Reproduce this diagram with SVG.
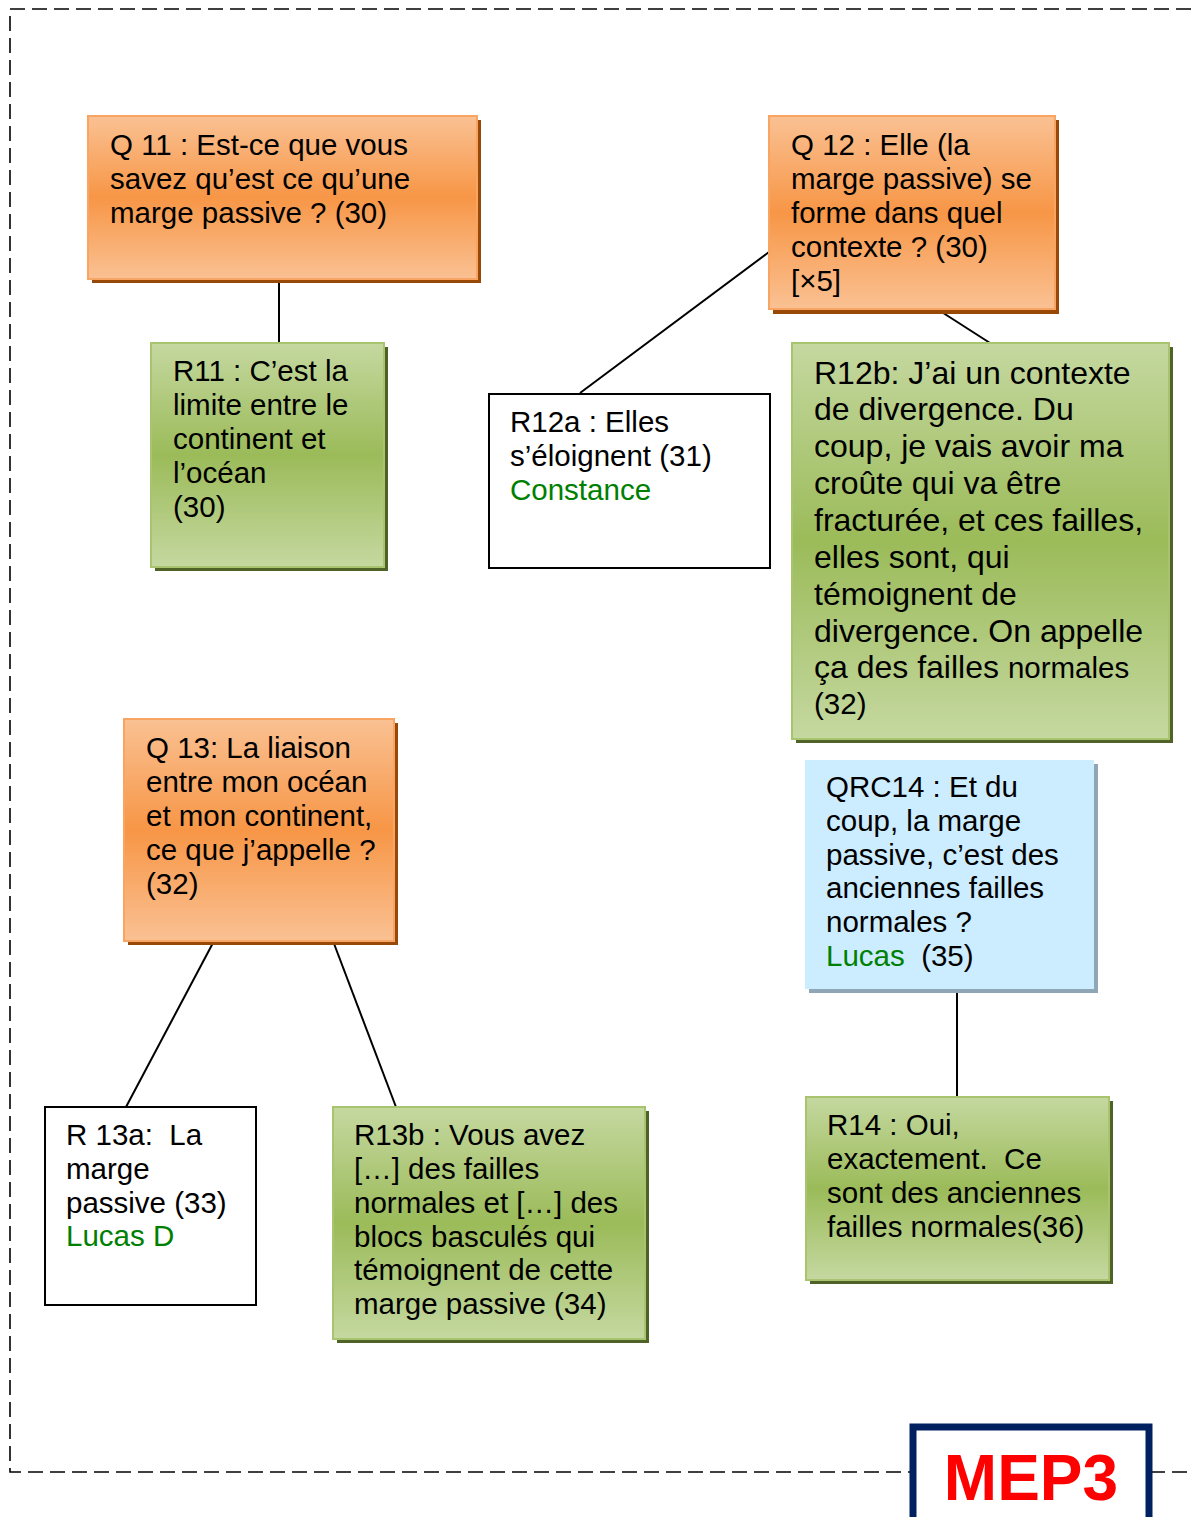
<svg xmlns="http://www.w3.org/2000/svg" width="1192" height="1517" viewBox="0 0 1192 1517">
<defs>
<linearGradient id="gOr" x1="0" y1="0" x2="0" y2="1">
<stop offset="0" stop-color="#FAC193"/>
<stop offset="0.5" stop-color="#F79646"/>
<stop offset="1" stop-color="#FAC193"/>
</linearGradient>
<linearGradient id="gGr" x1="0" y1="0" x2="0" y2="1">
<stop offset="0" stop-color="#C5D8A0"/>
<stop offset="0.5" stop-color="#9BBB59"/>
<stop offset="1" stop-color="#C5D8A0"/>
</linearGradient>
</defs>
<style>
text{font-family:"Liberation Sans",Arial,sans-serif;font-size:29.5px;fill:#000}
.big{font-size:32px}
.name{fill:#008000}
.q{fill:url(#gOr);stroke:#F8A462;stroke-width:2}
.qs{fill:#984807}
.g{fill:url(#gGr);stroke:#A9C46E;stroke-width:2}
.gs{fill:#4F6228}
.w{fill:#fff;stroke:#000;stroke-width:2}
.b{fill:#CCECFF}
.bs{fill:#8EA6B6}
.conn line{stroke:#000;stroke-width:2}
.frame{fill:none;stroke:#000;stroke-width:1.6;stroke-dasharray:15 7}
</style>
<rect class="frame" x="10" y="9" width="1210" height="1463"/>
<g id="connectors" class="conn">
<line x1="279" y1="281" x2="279" y2="343"/>
<line x1="769" y1="252" x2="580" y2="393"/>
<line x1="937" y1="309" x2="990" y2="343"/>
<line x1="214" y1="941" x2="126" y2="1107"/>
<line x1="333" y1="941" x2="396" y2="1107"/>
<line x1="957" y1="990" x2="957" y2="1097"/>
</g>
<g id="Q11">
<rect class="qs" x="92" y="120" width="389" height="163"/>
<rect class="q" x="88" y="116" width="389" height="163"/>
<text x="110" y="155">Q 11 : Est-ce que vous</text>
<text x="110" y="189">savez qu’est ce qu’une</text>
<text x="110" y="223">marge passive ? (30)</text>
</g>
<g id="R11">
<rect class="gs" x="155" y="347" width="233" height="224"/>
<rect class="g" x="151" y="343" width="233" height="224"/>
<text x="173" y="381">R11 : C’est la</text>
<text x="173" y="415">limite entre le</text>
<text x="173" y="449">continent et</text>
<text x="173" y="483">l’océan</text>
<text x="173" y="517">(30)</text>
</g>
<g id="Q12">
<rect class="qs" x="773" y="120" width="286" height="194"/>
<rect class="q" x="769" y="116" width="286" height="193"/>
<text x="791" y="155">Q 12 : Elle (la</text>
<text x="791" y="189">marge passive) se</text>
<text x="791" y="223">forme dans quel</text>
<text x="791" y="257">contexte ? (30)</text>
<text x="791" y="291">[×5]</text>
</g>
<g id="R12a">
<rect class="w" x="489" y="394" width="281" height="174"/>
<text x="510" y="432">R12a : Elles</text>
<text x="510" y="466">s’éloignent (31)</text>
<text x="510" y="500" class="name">Constance</text>
</g>
<g id="R12b">
<rect class="gs" x="796" y="347" width="377" height="396"/>
<rect class="g" x="792" y="343" width="377" height="396"/>
<text class="big" x="814" y="384">R12b: J’ai un contexte</text>
<text class="big" x="814" y="420">de divergence. Du</text>
<text class="big" x="814" y="457">coup, je vais avoir ma</text>
<text class="big" x="814" y="494">croûte qui va être</text>
<text class="big" x="814" y="531">fracturée, et ces failles,</text>
<text class="big" x="814" y="568">elles sont, qui</text>
<text class="big" x="814" y="605">témoignent de</text>
<text class="big" x="814" y="642">divergence. On appelle</text>
<text class="big" x="814" y="678">ça des failles <tspan style="font-size:29.5px">normales</tspan></text>
<text x="814" y="714">(32)</text>
</g>
<g id="Q13">
<rect class="qs" x="128" y="723" width="270" height="222"/>
<rect class="q" x="124" y="719" width="270" height="222"/>
<text x="146" y="758">Q 13: La liaison</text>
<text x="146" y="792">entre mon océan</text>
<text x="146" y="826">et mon continent,</text>
<text x="146" y="860">ce que j’appelle ?</text>
<text x="146" y="894">(32)</text>
</g>
<g id="QRC14">
<rect class="bs" x="809" y="764" width="289" height="229"/>
<rect class="b" x="805" y="760" width="289" height="229"/>
<text x="826" y="797">QRC14 : Et du</text>
<text x="826" y="831">coup, la marge</text>
<text x="826" y="865">passive, c’est des</text>
<text x="826" y="898">anciennes failles</text>
<text x="826" y="932">normales ?</text>
<text x="826" y="966" xml:space="preserve"><tspan class="name">Lucas</tspan>  (35)</text>
</g>
<g id="R13a">
<rect class="w" x="45" y="1107" width="211" height="198"/>
<text x="66" y="1145" xml:space="preserve">R 13a:  La</text>
<text x="66" y="1179">marge</text>
<text x="66" y="1213">passive (33)</text>
<text x="66" y="1246" class="name">Lucas D</text>
</g>
<g id="R13b">
<rect class="gs" x="337" y="1111" width="312" height="232"/>
<rect class="g" x="333" y="1107" width="312" height="232"/>
<text x="354" y="1145">R13b : Vous avez</text>
<text x="354" y="1179">[…] des failles</text>
<text x="354" y="1213">normales et […] des</text>
<text x="354" y="1247">blocs basculés qui</text>
<text x="354" y="1280">témoignent de cette</text>
<text x="354" y="1314">marge passive (34)</text>
</g>
<g id="R14">
<rect class="gs" x="810" y="1101" width="303" height="183"/>
<rect class="g" x="806" y="1097" width="303" height="183"/>
<text x="827" y="1135">R14 : Oui,</text>
<text x="827" y="1169" xml:space="preserve">exactement.  Ce</text>
<text x="827" y="1203">sont des anciennes</text>
<text x="827" y="1237">failles normales(36)</text>
</g>
<g id="MEP3">
<rect x="913" y="1427" width="236" height="100" fill="#fff" stroke="#002060" stroke-width="7"/>
<text x="1031" y="1500" text-anchor="middle" style="font-size:64px;font-weight:bold;fill:#FF0000">MEP3</text>
</g>
</svg>
